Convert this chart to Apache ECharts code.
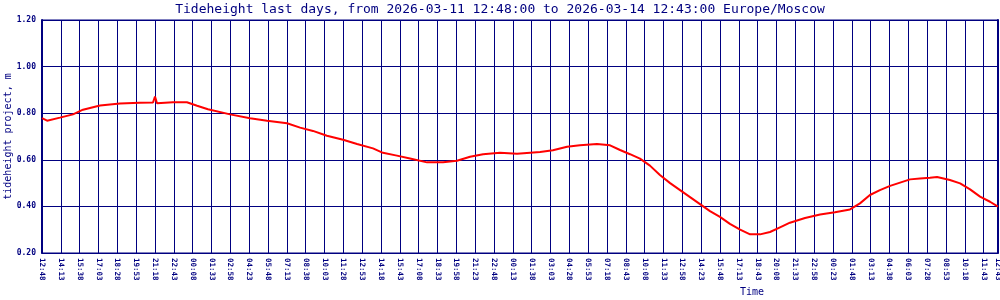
<!DOCTYPE html>
<html>
<head>
<meta charset="utf-8">
<script src="https://cdn.jsdelivr.net/npm/echarts@6/dist/echarts.min.js"></script>
<style>
html,body{margin:0;padding:0;background:#fff;}
#chart{width:1000px;height:300px;}
</style>
</head>
<body>
<div id="chart"></div>
<script>
// ---- data ----
const titleText = 'Tideheight last days, from 2026-03-11 12:48:00 to 2026-03-14 12:43:00 Europe/Moscow';
const yAxisName = 'tideheight project, m';
const xAxisName = 'Time';
const tickStepMinutes = 85;
const spanMinutes = 4315;
const tickLabels = [
  '12:48','14:13','15:38','17:03','18:28','19:53','21:18','22:43','00:08','01:33','02:58','04:23','05:48','07:13','08:38','10:03','11:28',
  '12:53','14:18','15:43','17:08','18:33','19:58','21:23','22:48','00:13','01:38','03:03','04:28','05:53','07:18','08:43','10:08','11:33',
  '12:58','14:23','15:48','17:13','18:43','20:08','21:33','22:58','00:23','01:48','03:13','04:38','06:03','07:28','08:53','10:18','11:43',
  '12:43'
];
// minutes since 2026-03-11 12:48
const times = [0,23,81,140,185,262,352,442,501,510,519,591,654,700,749,849,939,1016,1106,1165,1223,1286,1359,1422,1494,1539,1602,1661,1738,1810,1873,1932,1991,2067,2144,2248,2306,2370,2428,2505,2564,2609,2654,2699,2744,2789,2835,2880,2925,2970,3015,3060,3105,3151,3196,3241,3286,3331,3376,3444,3512,3579,3647,3692,3737,3782,3828,3873,3918,3963,4008,4040,4098,4144,4189,4234,4279,4315];
const heights = [0.779,0.768,0.781,0.795,0.815,0.833,0.842,0.845,0.846,0.871,0.843,0.847,0.847,0.832,0.817,0.795,0.778,0.768,0.757,0.738,0.724,0.703,0.686,0.668,0.649,0.630,0.618,0.606,0.589,0.589,0.596,0.613,0.624,0.630,0.626,0.633,0.641,0.656,0.662,0.668,0.662,0.642,0.624,0.605,0.575,0.535,0.500,0.470,0.440,0.410,0.380,0.355,0.325,0.300,0.280,0.280,0.290,0.310,0.330,0.350,0.365,0.375,0.387,0.413,0.449,0.470,0.488,0.502,0.516,0.520,0.523,0.526,0.513,0.499,0.473,0.442,0.420,0.399];

// ---- chart ----
const navy = '#000080';
const mono = 'DejaVu Sans Mono';
const chart = echarts.init(document.getElementById('chart'), null, {renderer: 'canvas'});
chart.setOption({
  backgroundColor: '#ffffff',
  animation: false,
  title: {
    text: titleText, left: 'center', top: -2,
    textStyle: {fontFamily: mono, fontSize: 13, fontWeight: 'normal', color: navy}
  },
  grid: {left: 42, right: 2, top: 20, bottom: 47, show: true, borderColor: navy, borderWidth: 1,
         containLabel: false, outerBoundsMode: 'none'},
  xAxis: {
    type: 'value', min: 0, max: spanMinutes, interval: tickStepMinutes,
    axisLine: {lineStyle: {color: navy, width: 1}},
    axisTick: {show: false},
    splitLine: {show: true, lineStyle: {color: navy, width: 1}},
    axisLabel: {
      rotate: -90, margin: 5, color: navy, fontFamily: mono, fontSize: 7.5, fontWeight: 'bold',
      showMaxLabel: true, hideOverlap: false,
      formatter: v => v >= spanMinutes ? tickLabels[tickLabels.length - 1] : tickLabels[Math.round(v / tickStepMinutes)]
    }
  },
  yAxis: [{
    type: 'value', min: 0.2, max: 1.2, interval: 0.2,
    name: yAxisName, nameLocation: 'middle', nameGap: 29, nameMoveOverlap: false,
    nameTextStyle: {fontFamily: mono, fontSize: 10, color: navy},
    axisLine: {show: true, lineStyle: {color: navy, width: 2}},
    axisTick: {show: false},
    splitLine: {show: true, lineStyle: {color: navy, width: 1}},
    axisLabel: {margin: 6, color: navy, fontFamily: mono, fontSize: 8, fontWeight: 'bold', formatter: v => v.toFixed(2)}
  }, {
    type: 'value', min: 0.2, max: 1.2, interval: 0.2, position: 'right',
    axisLine: {show: true, lineStyle: {color: navy, width: 2}},
    axisTick: {show: false}, axisLabel: {show: false}, splitLine: {show: false}
  }],
  graphic: [{
    type: 'text', left: 740, top: 287,
    style: {text: xAxisName, fontFamily: mono, fontSize: 10, fill: navy}
  }],
  series: [{
    type: 'line', yAxisIndex: 0,
    data: times.map((t, i) => [t, heights[i]]),
    showSymbol: false, symbol: 'none',
    lineStyle: {color: '#ff0000', width: 2},
    z: 5
  }]
});
</script>
</body>
</html>
